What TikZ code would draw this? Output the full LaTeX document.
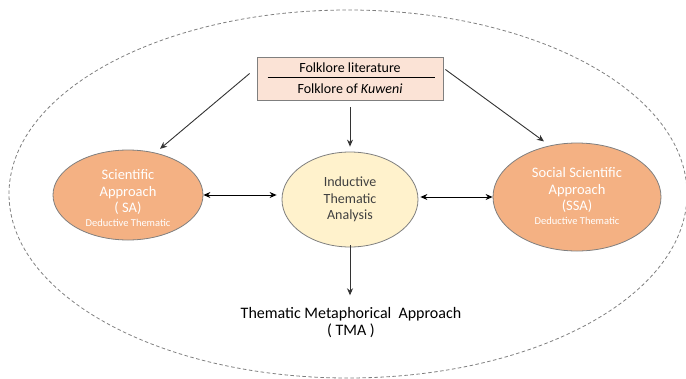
\documentclass[tikz,border=0pt]{standalone}
\usepackage{fontspec}
\setmainfont{Carlito}
\usetikzlibrary{shapes.geometric,arrows.meta,calc}

\definecolor{edgegray}{HTML}{7F7F7F}
\definecolor{linegray}{HTML}{333333}
\definecolor{orangefill}{HTML}{F4B183}
\definecolor{peachfill}{HTML}{FBE3D6}
\definecolor{creamfill}{HTML}{FFF2CC}
\definecolor{textgray}{HTML}{404040}

\tikzset{
  approach/.style={ellipse, draw=edgegray, line width=0.8pt, fill=orangefill,
    inner sep=0pt, align=center, text=white, font=\fontsize{14.5}{16.5}\selectfont},
  central/.style={ellipse, draw=edgegray, line width=0.8pt, fill=creamfill,
    inner sep=0pt, align=center, text=textgray, font=\fontsize{14}{16.5}\selectfont},
  sourcebox/.style={rectangle, draw=edgegray, line width=0.8pt, fill=peachfill,
    minimum width=186pt, minimum height=43pt, inner sep=0pt},
  boxtext/.style={font=\fontsize{14}{16}\selectfont},
  arr/.style={-{Stealth[length=7pt,width=6pt]}, draw=linegray, line width=0.9pt},
  darr/.style={{Stealth[length=7pt,width=6pt]}-{Stealth[length=7pt,width=6pt]}, draw=black, line width=0.9pt},
}
\newcommand{\deductive}{{\fontsize{10.5}{12}\selectfont Deductive Thematic}}

\begin{document}
\begin{tikzpicture}[x=1pt,y=-1pt]
  \useasboundingbox (0,0) rectangle (686,378);

  % outer dashed boundary
  \draw[edgegray, line width=0.8pt, dash pattern=on 3.5pt off 2.5pt]
    (348,194) ellipse [x radius=339, y radius=184];

  % source box with two entries
  \node[sourcebox] (box) at (350,78.5) {};
  \node[boxtext] (lit) at (350,67.5) {Folklore literature};
  \node[boxtext] (kuw) at (350,88.5) {Folklore of \textit{Kuweni}};
  \draw[black, line width=0.6pt] ($(box.west)+(11,-1.5)$) -- ($(box.east)+(-8,-1.5)$);

  % three approaches
  \node[approach, minimum width=150pt, minimum height=90pt] (sa) at (128,195) {};
  \node[align=center, text=white, font=\fontsize{14.5}{16.5}\selectfont] (satext) at (128,198)
    {Scientific\\Approach\\( SA)\\[-3pt]\deductive};
  \node[central, minimum width=136pt, minimum height=95pt] (ita) at (350,199.5)
    {Inductive\\Thematic\\Analysis};
  \node[approach, minimum width=168pt, minimum height=108pt] (ssa) at (577,197) {};
  \node[align=center, text=white, font=\fontsize{14.5}{16.5}\selectfont] (ssatext) at (577,196)
    {Social Scientific\\Approach\\(SSA)\\[-3pt]\deductive};

  % outcome
  \node[align=center, font=\fontsize{16}{17}\selectfont] (tma) at (351,323)
    {Thematic Metaphorical\ \ Approach\\( TMA )};

  % connectors
  \draw[arr, shorten >=6pt] ([xshift=-7pt,yshift=5pt]box.west) -- (sa.57);
  \draw[arr, shorten >=7pt] ([xshift=2pt,yshift=9pt]box.east) -- (ssa.118);
  \draw[arr, shorten <=7pt, shorten >=5pt] (box.south) -- (ita.north);
  \draw[darr, shorten >=5pt] (sa.east) -- (sa.east -| ita.west);
  \draw[darr, shorten <=2pt] (ita.east |- ssa.west) -- (ssa.west);
  \draw[arr, shorten <=-2pt, shorten >=9pt] (ita.south) -- (ita.south |- tma.north);
\end{tikzpicture}
\end{document}
